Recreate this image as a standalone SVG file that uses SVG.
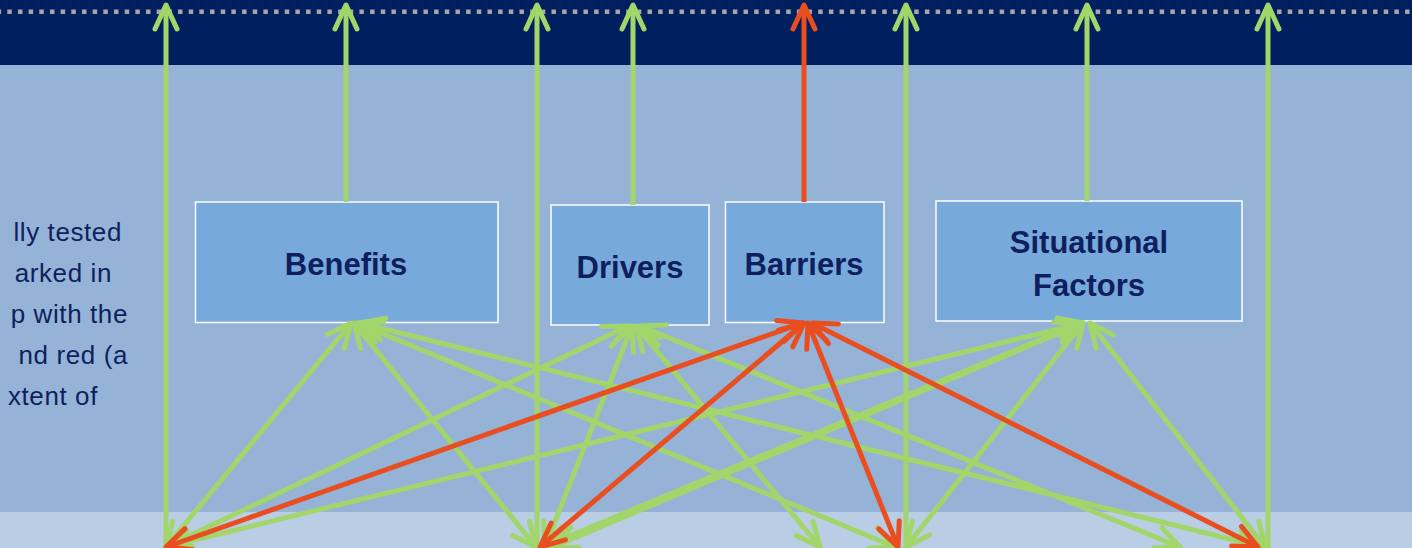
<svg xmlns="http://www.w3.org/2000/svg" width="1412" height="548" viewBox="0 0 1412 548">
<style>
.box{fill:#77A9DB;stroke:#FFFFFF;stroke-width:1.5}
.lbl{font-family:"Liberation Sans",Arial,sans-serif;font-weight:bold;font-size:31px;fill:#0F1F5E;text-anchor:middle}
.side{font-family:"Liberation Sans",Arial,sans-serif;font-size:26px;fill:#0F1F5E;text-anchor:end;letter-spacing:0.6px}
.g2{stroke:#A3D66A;stroke-width:5;fill:none;marker-start:url(#ag);marker-end:url(#ag)}
.r2{stroke:#E94E20;stroke-width:5;fill:none;marker-start:url(#ar);marker-end:url(#ar)}
.gu{stroke:#A3D66A;stroke-width:5;fill:none;marker-end:url(#ag)}
.ru{stroke:#E94E20;stroke-width:5;fill:none;marker-end:url(#ar)}
</style>
<defs>
<marker id="ag" markerUnits="userSpaceOnUse" viewBox="-30 -15 34 30" refX="0" refY="0" markerWidth="34" markerHeight="30" orient="auto-start-reverse" overflow="visible">
<path d="M-24,-11 L0,0 L-24,11" fill="none" stroke="#A3D66A" stroke-width="5" stroke-linecap="round" stroke-linejoin="round"/>
</marker>
<marker id="ar" markerUnits="userSpaceOnUse" viewBox="-30 -15 34 30" refX="0" refY="0" markerWidth="34" markerHeight="30" orient="auto-start-reverse" overflow="visible">
<path d="M-24,-11 L0,0 L-24,11" fill="none" stroke="#E94E20" stroke-width="5" stroke-linecap="round" stroke-linejoin="round"/>
</marker>
</defs>
<g id="background">
<rect x="0" y="0" width="1412" height="548" fill="#95B3D7"/>
<rect x="0" y="0" width="1412" height="65" fill="#001F5F"/>
<rect x="0" y="512" width="1412" height="36" fill="#B9CDE5"/>
<line x1="0" y1="11.7" x2="1412" y2="11.7" stroke="#A6A6A6" stroke-width="4.5" stroke-dasharray="4.5 6.17" stroke-dashoffset="3.37"/>
</g>
<g id="side-text">
<text class="side" x="122" y="241">lly tested</text>
<text class="side" x="112" y="282">arked in</text>
<text class="side" x="128" y="323">p with the</text>
<text class="side" x="128" y="364">nd red (a</text>
<text class="side" x="98" y="405">xtent of</text>
</g>
<g id="node-benefits">
<rect class="box" x="195.5" y="202" width="302.5" height="120.5"/>
<text class="lbl" x="346" y="275">Benefits</text>
</g>
<g id="node-drivers">
<rect class="box" x="551" y="205" width="158" height="120"/>
<text class="lbl" x="630" y="278">Drivers</text>
</g>
<g id="node-barriers">
<rect class="box" x="725.5" y="202" width="158.5" height="120.5"/>
<text class="lbl" x="804" y="275">Barriers</text>
</g>
<g id="node-situational">
<rect class="box" x="936" y="201" width="306" height="120"/>
<text class="lbl" x="1089" y="253">Situational</text>
<text class="lbl" x="1089" y="296">Factors</text>
</g>
<g id="connectors">
<line class="gu" x1="166" y1="560" x2="166" y2="5"/>
<line class="gu" x1="346" y1="202" x2="346" y2="5"/>
<line class="gu" x1="537" y1="560" x2="537" y2="5"/>
<line class="gu" x1="633" y1="205" x2="633" y2="5"/>
<line class="ru" x1="804" y1="202" x2="804" y2="5"/>
<line class="gu" x1="906" y1="560" x2="906" y2="5"/>
<line class="gu" x1="1087" y1="201" x2="1087" y2="5"/>
<line class="gu" x1="1268" y1="560" x2="1268" y2="5"/>
<line class="g2" x1="166" y1="547" x2="351" y2="323"/>
<line class="g2" x1="166" y1="547" x2="628" y2="326"/>
<line class="g2" x1="166" y1="547" x2="1083" y2="323"/>
<line class="g2" x1="354" y1="323" x2="536" y2="547"/>
<line class="g2" x1="357" y1="323" x2="895" y2="547"/>
<line class="g2" x1="360" y1="323" x2="1262" y2="547"/>
<line class="g2" x1="632" y1="326" x2="545" y2="547"/>
<line class="g2" x1="636" y1="326" x2="820" y2="547"/>
<line class="g2" x1="640" y1="326" x2="1180" y2="547"/>
<line class="g2" x1="1080" y1="323" x2="543" y2="547"/>
<line class="g2" x1="1083" y1="323" x2="553" y2="547"/>
<line class="g2" x1="1083" y1="323" x2="906" y2="547"/>
<line class="g2" x1="1090" y1="323" x2="1265" y2="547"/>
<line class="r2" x1="166" y1="547" x2="803" y2="323"/>
<line class="r2" x1="804" y1="323" x2="540" y2="547"/>
<line class="r2" x1="808" y1="323" x2="898" y2="547"/>
<line class="r2" x1="812" y1="323" x2="1258" y2="547"/>
</g>
</svg>
